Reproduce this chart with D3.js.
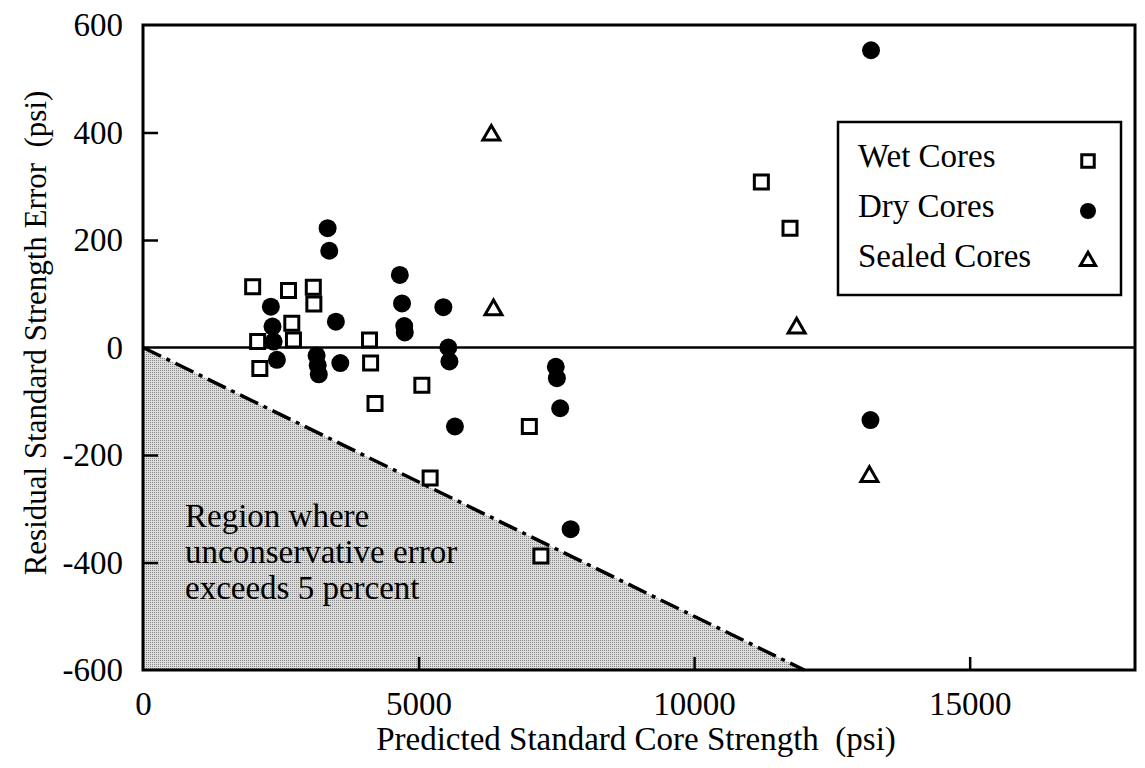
<!DOCTYPE html>
<html>
<head>
<meta charset="utf-8">
<script src="https://cdn.jsdelivr.net/npm/d3@7"></script>
<style>
  html, body { margin: 0; padding: 0; background: #fff; }
  svg { display: block; }
  text { font-family: "Liberation Serif", "Times New Roman", Times, serif; fill: #000; }
</style>
</head>
<body>
<svg id="chart" width="1145" height="768"></svg>
<script>
// Wet cores
const wetX = [1990, 2640, 3090, 3100, 2700, 2730, 2080, 2120, 4110, 4130, 5060, 4210, 7010, 5210, 7220, 11220, 11740];
const wetY = [113, 106, 112, 81, 45, 14, 11, -39, 14, -29, -70, -104, -147, -243, -388, 308, 222];
// Dry cores
const dryX = [3350, 3380, 2320, 2350, 2370, 2430, 3500, 3150, 3170, 3190, 3580, 4660, 4700, 4740, 4750, 5450, 5540, 5560, 7490, 7510, 7570, 7760, 5660, 13210, 13200];
const dryY = [222, 180, 76, 39, 11, -23, 48, -15, -33, -50, -29, 135, 82, 40, 28, 75, 0, -26, -36, -57, -113, -338, -147, 553, -135];
// Sealed cores
const sealedX = [6320, 6360, 11860, 13180];
const sealedY = [395, 70, 36, -240];

const xTicks = [0, 5000, 10000, 15000];
const yTicks = [-600, -400, -200, 0, 200, 400, 600];
const legendLabels = ["Wet Cores", "Dry Cores", "Sealed Cores"];
const limitPercent = 5;   // unconservative error limit
const regionLines = ["Region where", "unconservative error", "exceeds 5 percent"];

const svg = d3.select("#chart");
const plotL = 143, plotR = 1135, plotT = 25, plotB = 670;

const x = d3.scaleLinear().domain([0, 18000]).range([plotL, plotR]);
const y = d3.scaleLinear().domain([-600, 600]).range([plotB, plotT]);
const plain = d => String(d);   // ASCII hyphen for negatives

// stipple pattern for the shaded region
const defs = svg.append("defs");
const pat = defs.append("pattern").attr("id", "stipple")
  .attr("patternUnits", "userSpaceOnUse").attr("width", 2).attr("height", 2);
pat.append("rect").attr("width", 2).attr("height", 2).attr("fill", "#dcdcdc");
pat.append("rect").attr("width", 1).attr("height", 1).attr("fill", "#8a8a8a");

// region below the 5 percent line
const xEnd = 600 / (limitPercent / 100);
const regionPts = [[0, 0], [xEnd, -600], [0, -600]];
svg.append("path")
  .attr("d", d3.line().x(d => x(d[0])).y(d => y(d[1]))(regionPts) + "Z")
  .attr("fill", "url(#stipple)");

// 5 percent limit line (dash-dot)
svg.append("path")
  .attr("d", d3.line().x(d => x(d[0])).y(d => y(d[1]))([[0, 0], [xEnd, -600]]))
  .attr("fill", "none").attr("stroke", "#000").attr("stroke-width", 3.5)
  .attr("stroke-dasharray", "20,6,4,6");

// zero line
svg.append("line")
  .attr("x1", x(0)).attr("x2", x(18000)).attr("y1", y(0)).attr("y2", y(0))
  .attr("stroke", "#000").attr("stroke-width", 2.5);

// axes with inward ticks
const xAxis = d3.axisBottom(x).tickValues(xTicks).tickSize(-13).tickPadding(22).tickFormat(plain);
const gx = svg.append("g").attr("transform", `translate(0,${plotB})`).call(xAxis);
gx.select(".domain").remove();
gx.selectAll(".tick line").attr("stroke", "#000").attr("stroke-width", 2.5)
  .filter(d => d === 0).remove();
gx.selectAll(".tick text").attr("font-size", 33).attr("font-family", "Liberation Serif, Times New Roman, serif")
  .attr("dy", "0.71em").attr("fill", "#000");

const yAxis = d3.axisLeft(y).tickValues(yTicks).tickSize(-15).tickPadding(20).tickFormat(plain);
const gy = svg.append("g").attr("transform", `translate(${plotL},0)`).call(yAxis);
gy.select(".domain").remove();
gy.selectAll(".tick line").attr("stroke", "#000").attr("stroke-width", 2.5)
  .filter(d => d === -600 || d === 600 || d === 0).remove();
gy.selectAll(".tick text").attr("font-size", 33).attr("font-family", "Liberation Serif, Times New Roman, serif")
  .attr("fill", "#000");

// plot frame
svg.append("rect").attr("x", plotL).attr("y", plotT)
  .attr("width", plotR - plotL).attr("height", plotB - plotT)
  .attr("fill", "none").attr("stroke", "#000").attr("stroke-width", 3);

// region label
const rl = svg.append("text").attr("x", 185).attr("y", 527).attr("font-size", 33);
regionLines.forEach((t, i) => {
  rl.append("tspan").attr("x", 185).attr("dy", i === 0 ? 0 : 36).text(t);
});

// data markers
const sq = d3.symbol().type(d3.symbolSquare).size(196);
const ci = d3.symbol().type(d3.symbolCircle).size(254);
const tr = d3.symbol().type(d3.symbolTriangle).size(125);

svg.append("g").selectAll("path").data(d3.zip(wetX, wetY)).join("path")
  .attr("d", sq).attr("transform", d => `translate(${x(d[0])},${y(d[1])})`)
  .attr("fill", "#fff").attr("stroke", "#000").attr("stroke-width", 3);

svg.append("g").selectAll("path").data(d3.zip(dryX, dryY)).join("path")
  .attr("d", ci).attr("transform", d => `translate(${x(d[0])},${y(d[1])})`)
  .attr("fill", "#000");

svg.append("g").selectAll("path").data(d3.zip(sealedX, sealedY)).join("path")
  .attr("d", tr).attr("transform", d => `translate(${x(d[0])},${y(d[1])})`)
  .attr("fill", "#fff").attr("stroke", "#000").attr("stroke-width", 3).attr("stroke-linejoin", "miter");

// legend
const lg = svg.append("g");
lg.append("rect").attr("x", 838).attr("y", 122).attr("width", 283).attr("height", 173)
  .attr("fill", "#fff").attr("stroke", "#000").attr("stroke-width", 2.5);
const legendSyms = [
  { d: d3.symbol().type(d3.symbolSquare).size(156)(), fill: "#fff", stroke: 3 },
  { d: d3.symbol().type(d3.symbolCircle).size(201)(), fill: "#000", stroke: 0 },
  { d: d3.symbol().type(d3.symbolTriangle).size(100)(), fill: "#fff", stroke: 3 }
];
legendLabels.forEach((lab, i) => {
  const by = 167 + i * 50;
  lg.append("text").attr("x", 858).attr("y", by).attr("font-size", 33).text(lab);
  const s = legendSyms[i];
  lg.append("path").attr("d", s.d)
    .attr("transform", `translate(1088,${by - 6})`)
    .attr("fill", s.fill).attr("stroke", s.stroke ? "#000" : "none").attr("stroke-width", s.stroke);
});

// axis titles
svg.append("text").attr("x", 636).attr("y", 750).attr("text-anchor", "middle")
  .attr("font-size", 33).attr("xml:space", "preserve").text("Predicted Standard Core Strength  (psi)");
svg.append("text").attr("transform", "translate(46,333) rotate(-90)").attr("text-anchor", "middle")
  .attr("font-size", 31).attr("xml:space", "preserve").text("Residual Standard Strength Error  (psi)");
</script>
</body>
</html>
